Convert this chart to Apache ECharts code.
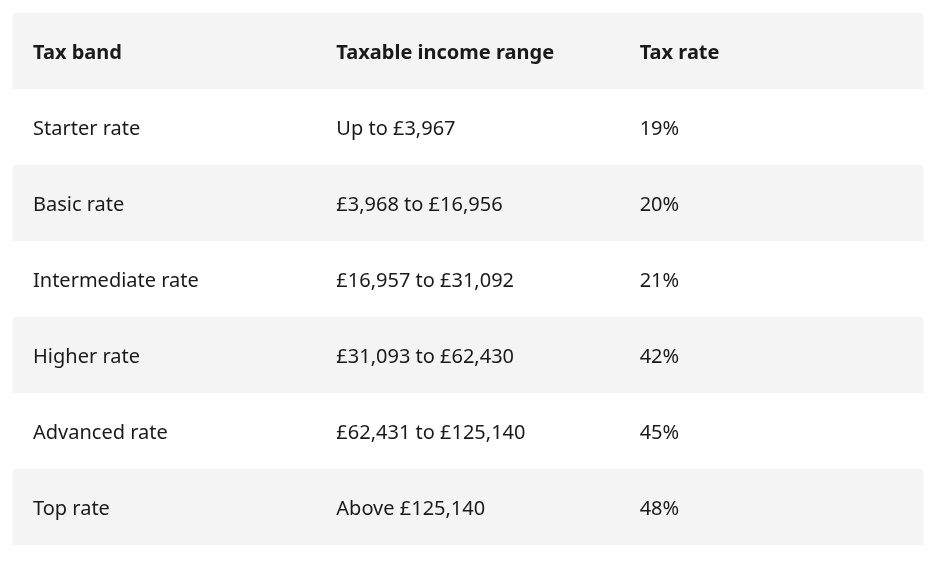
<!DOCTYPE html>
<html><head><meta charset="utf-8">
<script src="https://cdn.jsdelivr.net/npm/echarts@6/dist/echarts.min.js"></script>
<style>html,body{margin:0;padding:0;background:#fff}#c{width:942px;height:561px}</style>
</head><body><div id="c"></div>
<script>
const headers = ["Tax band", "Taxable income range", "Tax rate"];
const bands = ["Starter rate", "Basic rate", "Intermediate rate", "Higher rate", "Advanced rate", "Top rate"];
const ranges = ["Up to £3,967", "£3,968 to £16,956", "£16,957 to £31,092", "£31,093 to £62,430", "£62,431 to £125,140", "Above £125,140"];
const rates = ["19%", "20%", "21%", "42%", "45%", "48%"];

const rows = [headers].concat(bands.map((b, i) => [b, ranges[i], rates[i]]));
const data = rows.map((r, i) => [0, i, r[0], r[1], r[2]]);

const chart = echarts.init(document.getElementById('c'));
chart.setOption({
  animation: false,
  grid: {left: 13, right: 19, top: 13, bottom: 16},
  xAxis: {type: 'value', min: 0, max: 3, show: false},
  yAxis: {type: 'category', data: rows.map((r, i) => i), inverse: true, show: false},
  series: [{
    type: 'custom',
    data: data,
    renderItem: function (params, api) {
      const i = api.value(1);
      const p0 = api.coord([0, i]);
      const p3 = api.coord([3, i]);
      const h = api.size([0, 1])[1];
      const colW = (p3[0] - p0[0]) / 3;
      const top = p0[1] - h / 2;
      const children = [{
        type: 'rect',
        shape: {x: p0[0], y: top, width: p3[0] - p0[0], height: h},
        style: {fill: i % 2 === 0 ? '#f4f4f4' : '#ffffff'}
      }];
      for (let c = 0; c < 3; c++) {
        children.push({
          type: 'text',
          style: {
            text: api.value(2 + c),
            x: p0[0] + c * colW + 20,
            y: p0[1] + 2,
            verticalAlign: 'middle',
            fill: '#1a1a1a',
            font: (i === 0 ? 'bold ' : '') + '20px "Noto Sans"'
          }
        });
      }
      return {type: 'group', children: children};
    }
  }]
});
</script></body></html>
